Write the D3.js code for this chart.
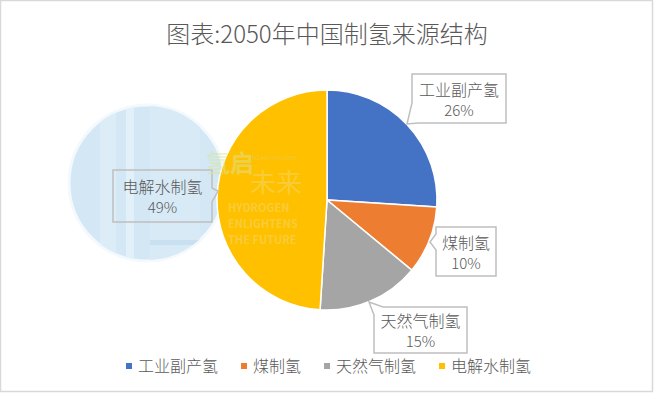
<!DOCTYPE html>
<html>
<head>
<meta charset="utf-8">
<script src="https://cdn.jsdelivr.net/npm/d3@7"></script>
<style>
  html, body { margin: 0; padding: 0; background: #fff; }
  svg { display: block; }
  text { font-family: "Noto Sans CJK SC", "Microsoft YaHei", sans-serif; }
</style>
</head>
<body>
<svg id="chart" width="655" height="393"></svg>
<script>
const title = "图表:2050年中国制氢来源结构";
const categories = ["工业副产氢", "煤制氢", "天然气制氢", "电解水制氢"];
const values = [26, 10, 15, 49];
const colors = ["#4472C4", "#ED7D31", "#A5A5A5", "#FFC000"];

const svg = d3.select("#chart");
const cx = 327, cy = 200, R = 110;
const textColor = "#595959";

// frame
svg.append("rect").attr("x", 0.5).attr("y", 0.5).attr("width", 652).attr("height", 391)
  .attr("fill", "#fff").attr("stroke", "#d9d9d9").attr("stroke-width", 1.5);

// title
svg.append("text").attr("x", cx).attr("y", 43).attr("text-anchor", "middle")
  .attr("font-size", 24).attr("font-weight", 300).attr("fill", textColor).text(title);

// watermark circle (behind)
svg.append("defs").append("clipPath").attr("id", "wmclip")
  .append("circle").attr("cx", 147).attr("cy", 183).attr("r", 77);
const wm = svg.append("g");
wm.append("circle").attr("cx", 147).attr("cy", 183).attr("r", 78)
  .attr("fill", "#d3e7f4").attr("stroke", "#f4f9fd").attr("stroke-width", 3);
const wmIn = wm.append("g").attr("clip-path", "url(#wmclip)");
const stripes = [[100, 16, "#dcedf8"], [126, 8, "#e2f0f9"], [150, 50, "#d8eaf6"]];
stripes.forEach(s => {
  wmIn.append("rect").attr("x", s[0]).attr("y", 100).attr("width", s[1]).attr("height", 170)
    .attr("fill", s[2]);
});
wmIn.append("rect").attr("x", 150).attr("y", 240).attr("width", 55).attr("height", 5).attr("fill", "#c9e0f1");

// pie
const pie = d3.pie().sort(null).value(d => d)(values);
const arc = d3.arc().innerRadius(0).outerRadius(R);
svg.append("g").attr("transform", `translate(${cx},${cy})`)
  .selectAll("path").data(pie).join("path")
  .attr("d", arc)
  .attr("fill", (d, i) => colors[i])
  .attr("stroke", "#fff").attr("stroke-width", 1.5);

// callout labels (layout positions)
const boxes = [
  { x0: 412, y0: 74, x1: 506, y1: 123, shape: "bl", tip: [407, 124] },
  { x0: 436, y0: 227, x1: 496, y1: 276, shape: "l", tip: [430, 242] },
  { x0: 374, y0: 307, x1: 467, y1: 353, shape: "tl", tip: [369, 302] },
  { x0: 113, y0: 170, x1: 212, y1: 222, shape: "r", tip: [218, 191] }
];
function calloutPath(b) {
  const { x0, y0, x1, y1, tip } = b;
  if (b.shape === "bl") {
    return `M${x0},${y0}H${x1}V${y1}H${x0 + 6}L${tip[0]},${tip[1]}L${x0},${y1 - 20}Z`;
  } else if (b.shape === "l") {
    return `M${x0},${y0}H${x1}V${y1}H${x0}V${y0 + 23}L${tip[0]},${tip[1]}L${x0},${y0 + 7}Z`;
  } else if (b.shape === "tl") {
    return `M${x0},${y0 + 8}L${tip[0]},${tip[1]}L${x0 + 9},${y0}H${x1}V${y1}H${x0}Z`;
  } else {
    return `M${x0},${y0}H${x1}V${y0 + 18}L${tip[0]},${tip[1]}L${x1},${y0 + 32}V${y1}H${x0}Z`;
  }
}
const lab = svg.append("g");
boxes.forEach((b, i) => {
  lab.append("path").attr("d", calloutPath(b))
    .attr("fill", i === 3 ? "none" : "#fff")
    .attr("stroke", "#bfbfbf").attr("stroke-width", 1.5);
  const mx = (b.x0 + b.x1) / 2;
  const my = (b.y0 + b.y1) / 2;
  lab.append("text").attr("x", mx).attr("y", my - 3).attr("text-anchor", "middle")
    .attr("font-size", 16).attr("font-weight", 300).attr("fill", textColor).text(categories[i]);
  lab.append("text").attr("x", mx).attr("y", my + 17).attr("text-anchor", "middle")
    .attr("font-size", 15).attr("font-weight", 300).attr("fill", textColor).text(values[i] + "%");
});

// watermark logo (overlay, kept clear of the label text)
const logo = svg.append("g").attr("opacity", 0.45);
logo.append("text").attr("x", 206).attr("y", 172).attr("font-size", 24).attr("font-weight", "bold")
  .attr("fill", "#d8e6a0").text("氢启");
logo.append("text").attr("x", 250).attr("y", 192).attr("font-size", 26)
  .attr("fill", "#f3dc7a").text("未来");
logo.append("text").attr("x", 252).attr("y", 160).attr("font-size", 7)
  .attr("fill", "#e8d27a").text("h2weixin.com");
["HYDROGEN", "ENLIGHTENS", "THE FUTURE"].forEach((t, i) => {
  logo.append("text").attr("x", 228).attr("y", 212 + i * 16).attr("font-size", 11)
    .attr("font-weight", "bold").attr("font-family", "Liberation Sans, Arial, sans-serif")
    .attr("fill", "#f3dc7a").text(t);
});

// legend
const leg = svg.append("g");
let lx = 126;
categories.forEach((c, i) => {
  leg.append("rect").attr("x", lx).attr("y", 363).attr("width", 6).attr("height", 6).attr("fill", colors[i]);
  const t = leg.append("text").attr("x", lx + 12).attr("y", 372).attr("font-size", 16)
    .attr("font-weight", 300).attr("fill", textColor).text(c);
  lx += 12 + t.node().getComputedTextLength() + 23;
});
</script>
</body>
</html>
